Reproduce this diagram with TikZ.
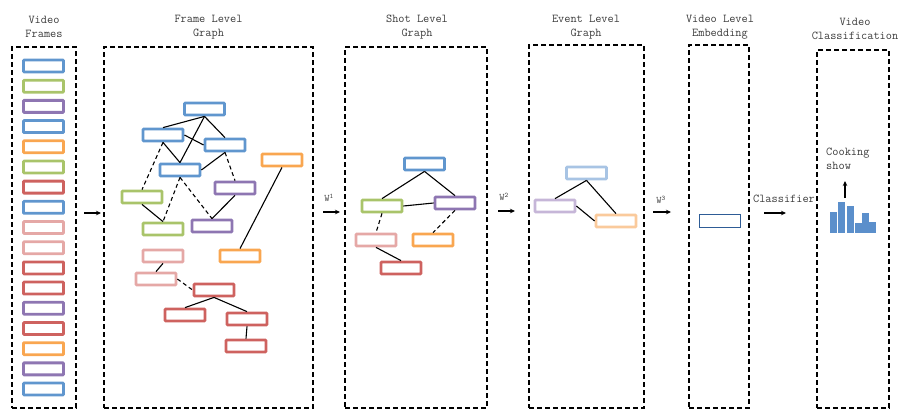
\documentclass[tikz,border=0pt]{standalone}
\usetikzlibrary{arrows.meta}
\definecolor{cblue}{RGB}{96,150,206}
\definecolor{cgreen}{RGB}{169,196,106}
\definecolor{cpurple}{RGB}{142,118,178}
\definecolor{corange}{RGB}{249,166,80}
\definecolor{cred}{RGB}{206,98,95}
\definecolor{cpink}{RGB}{229,168,166}
\definecolor{lblue}{RGB}{168,196,228}
\definecolor{lpurple}{RGB}{198,182,216}
\definecolor{lorange}{RGB}{250,202,156}
\definecolor{dblue}{RGB}{46,92,150}
\definecolor{barc}{RGB}{91,143,203}
\definecolor{txt}{RGB}{60,60,60}
\begin{document}
\begin{tikzpicture}[x=1pt,y=-1pt,
  fb/.style={draw=#1, line width=2.8pt, minimum width=40pt, minimum height=12pt, inner sep=0pt, fill=white, rounded corners=0.8pt},
  panel/.style={draw=black, line width=1.4pt, dash pattern=on 5pt off 3pt, inner sep=0pt},
  title/.style={align=center, font=\fontsize{12}{14}\selectfont\ttfamily, text=txt, inner sep=0pt},
  edge/.style={line width=1.1pt},
  dedge/.style={edge, dash pattern=on 4pt off 3pt},
  arr/.style={line width=1.1pt, -{Stealth[length=5pt,width=4.5pt]}},
  lab/.style={font=\fontsize{12}{14}\selectfont\ttfamily, text=txt, inner sep=0pt},
  wlab/.style={font=\fontsize{10}{12}\selectfont\ttfamily, text=txt, inner sep=0pt}]
\useasboundingbox (0,0) rectangle (901,410);

% panels
\node[panel, minimum width=64pt, minimum height=361pt] (p1) at (44,227.5) {};
\node[panel, minimum width=209pt, minimum height=361pt] (p2) at (208.5,227.5) {};
\node[panel, minimum width=142pt, minimum height=361pt] (p3) at (416,227.5) {};
\node[panel, minimum width=115pt, minimum height=363pt] (p4) at (586.5,226.5) {};
\node[panel, minimum width=60pt, minimum height=363pt] (p5) at (719,226.5) {};
\node[panel, minimum width=72pt, minimum height=358pt] (p6) at (853,229) {};

% titles
\node[title] (t1) at (44,27) {Video\\Frames};
\node[title] (t2) at (208.5,27) {Frame Level\\Graph};
\node[title] (t3) at (417,27) {Shot Level\\Graph};
\node[title] (t4) at (586,27) {Event Level\\Graph};
\node[title] (t5) at (720,27) {Video Level\\Embedding};
\node[title] (t6) at (855,29) {Video\\Classification};

% video frames
\foreach \c [count=\i] in {cblue,cgreen,cpurple,cblue,corange,cgreen,cred,cblue,cpink,cpink,cred,cred,cpurple,cred,corange,cpurple,cblue}
  \node[fb=\c] (f\i) at (43.5,{66+20.19*(\i-1)}) {};

% frame level graph
\node[fb=cblue] (T) at (204.5,109) {};
\node[fb=cblue] (A) at (163,135) {};
\node[fb=cblue] (B) at (225,145) {};
\node[fb=cblue] (C) at (180,170) {};
\node[fb=corange] (D) at (282,160) {};
\node[fb=cpurple] (E) at (235,188) {};
\node[fb=cgreen] (F) at (142,197) {};
\node[fb=cgreen] (G) at (163,229) {};
\node[fb=cpurple] (H) at (212,226) {};
\node[fb=cpink] (I) at (163,256) {};
\node[fb=corange] (J) at (240,256) {};
\node[fb=cpink] (K) at (156,279) {};
\node[fb=cred] (L) at (214,290) {};
\node[fb=cred] (M) at (185,315) {};
\node[fb=cred] (N) at (247,319) {};
\node[fb=cred] (O) at (246,346) {};

\draw[edge] (T.south) -- (A.north);
\draw[edge] (T.south) -- (C.north);
\draw[edge] (T.south) -- (B.north);
\draw[edge] (A.east) -- (B.west);
\draw[edge] (A.south) -- (C.north);
\draw[edge] (B.south) -- (C.east);
\draw[dedge] (A.south) -- (F.north);
\draw[dedge] (C.south) -- (G.north);
\draw[dedge] (C.south) -- (H.north);
\draw[dedge] (B.south) -- (E.north);
\draw[edge] (E.south) -- (H.north);
\draw[edge] (F.south) -- (G.north);
\draw[edge] (D.south) -- (J.north);
\draw[edge] (I.south) -- (K.north);
\draw[dedge] (K.east) -- (L.west);
\draw[edge] (L.south) -- (M.north);
\draw[edge] (L.south) -- (N.north);
\draw[edge] (N.south) -- (O.north);

% shot level graph
\node[fb=cblue] (s1) at (424.5,164) {};
\node[fb=cgreen] (s2) at (382,206) {};
\node[fb=cpurple] (s3) at (455,203) {};
\node[fb=cpink] (s4) at (376,240) {};
\node[fb=corange] (s5) at (433,240) {};
\node[fb=cred] (s6) at (401,268) {};
\draw[edge] (s1.south) -- (s2.north);
\draw[edge] (s1.south) -- (s3.north);
\draw[edge] (s2.east) -- (s3.west);
\draw[dedge] (s2.south) -- (s4.north);
\draw[dedge] (s3.south) -- (s5.north);
\draw[edge] (s4.south) -- (s6.north);

% event level graph
\node[fb=lblue] (e1) at (586.5,173) {};
\node[fb=lpurple] (e2) at (555,206) {};
\node[fb=lorange] (e3) at (616,221) {};
\draw[edge] (e1.south) -- (e2.north);
\draw[edge] (e1.south) -- (e3.north);
\draw[edge] (e2.east) -- (e3.west);

% video embedding
\node[draw=dblue, line width=1.3pt, minimum width=41pt, minimum height=13pt, inner sep=0pt] (v) at (720,221) {};

% arrows between panels
\coordinate (a0s) at (84,213); \coordinate (a0e) at (101,213);
\coordinate (a1s) at (323,212); \coordinate (a1e) at (340,212);
\coordinate (a2s) at (498,211); \coordinate (a2e) at (515,211);
\coordinate (a3s) at (653,212); \coordinate (a3e) at (671,212);
\coordinate (a4s) at (764,213); \coordinate (a4e) at (786,213);
\draw[arr] (a0s) -- (a0e);
\draw[arr] (a1s) -- (a1e);
\draw[arr] (a2s) -- (a2e);
\draw[arr] (a3s) -- (a3e);
\draw[arr] (a4s) -- (a4e);
\node[wlab] (w1) at (329,198) {W\textsuperscript{1}};
\node[wlab] (w2) at (504,197) {W\textsuperscript{2}};
\node[wlab] (w3) at (661,200) {W\textsuperscript{3}};
\node[lab] (cl) at (784,199) {Classifier};

% classification bars
\foreach \x/\t in {830/212, 838/202, 847/206, 855/223, 862/213, 869/222}
  \fill[barc] (\x,233) rectangle ({\x+7},\t);
\node[lab, align=left, anchor=north west] (ck) at (826,148) {Cooking\\show};
\coordinate (cb) at (845,198);
\coordinate (ce) at (845,181);
\draw[arr] (cb) -- (ce);
\end{tikzpicture}
\end{document}
